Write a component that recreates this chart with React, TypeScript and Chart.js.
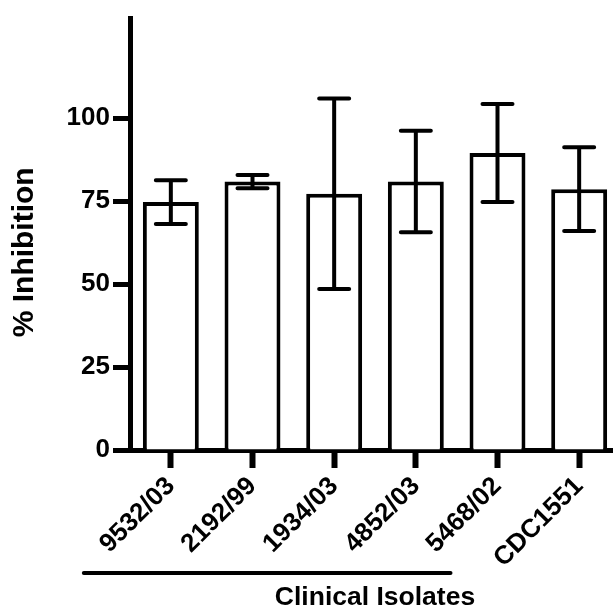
import React, { useEffect, useRef } from "react";
import { Chart, registerables } from "chart.js";

Chart.register(...registerables);

// ---- data ----
const categories: string[] = ["9532/03", "2192/99", "1934/03", "4852/03", "5468/02", "CDC1551"];
const means: number[] = [74.7, 80.9, 77.2, 80.9, 89.5, 78.6];
const errors: number[] = [6.6, 2.0, 28.7, 15.3, 14.8, 12.6];
const yTicks: number[] = [0, 25, 50, 75, 100];
const yMax = 130;
const yTitle = "% Inhibition";
const xTitle = "Clinical Isolates";
const groupedCount = 5; // first five categories are clinical isolates

const FONT = "'Liberation Sans', Arial, Helvetica, sans-serif";

const errorBarPlugin = {
  id: "errorBars",
  afterDatasetsDraw(chart: any) {
    const { ctx } = chart;
    const x = chart.scales.x;
    const y = chart.scales.y;
    ctx.save();
    ctx.strokeStyle = "#000";
    ctx.lineWidth = 4;
    ctx.lineCap = "round";
    means.forEach((m, i) => {
      const px = x.getPixelForValue(i);
      const top = y.getPixelForValue(m + errors[i]);
      const bot = y.getPixelForValue(m - errors[i]);
      ctx.beginPath();
      ctx.moveTo(px, top);
      ctx.lineTo(px, bot);
      ctx.moveTo(px - 15, top);
      ctx.lineTo(px + 15, top);
      ctx.moveTo(px - 15, bot);
      ctx.lineTo(px + 15, bot);
      ctx.stroke();
    });
    ctx.restore();
  },
};

const annotationPlugin = {
  id: "groupAnnotation",
  afterDraw(chart: any) {
    const { ctx } = chart;
    const x = chart.scales.x;
    const y = chart.scales.y;
    ctx.save();
    // bracket line under the clinical isolates
    ctx.strokeStyle = "#000";
    ctx.lineWidth = 4;
    ctx.lineCap = "round";
    const lineY = x.bottom - 37;
    ctx.beginPath();
    ctx.moveTo(x.getPixelForValue(0) - 87, lineY);
    ctx.lineTo(x.getPixelForValue(groupedCount - 1) - 47, lineY);
    ctx.stroke();
    // y axis title
    ctx.fillStyle = "#000";
    ctx.font = `bold 30px ${FONT}`;
    ctx.textAlign = "center";
    ctx.textBaseline = "middle";
    ctx.translate(25, (y.top + y.bottom) / 2 + 18);
    ctx.rotate(-Math.PI / 2);
    ctx.fillText(yTitle, 0, 0);
    ctx.restore();
  },
};

export default function App() {
  const canvasRef = useRef<HTMLCanvasElement | null>(null);

  useEffect(() => {
    const canvas = canvasRef.current;
    if (!canvas) return;
    const chart = new Chart(canvas, {
      type: "bar",
      data: {
        labels: categories,
        datasets: [
          {
            data: means,
            backgroundColor: "#ffffff",
            borderColor: "#000000",
            borderWidth: 4,
            borderSkipped: "start",
            categoryPercentage: 1,
            barPercentage: 0.685,
          },
        ],
      },
      options: {
        animation: false,
        responsive: false,
        devicePixelRatio: 1,
        layout: { padding: { top: 13, left: 0, right: 0, bottom: 0 } },
        plugins: {
          legend: { display: false },
          tooltip: { enabled: false },
          title: { display: false },
        },
        scales: {
          x: {
            z: 1,
            offset: true,
            grid: {
              display: true,
              offset: false,
              drawOnChartArea: false,
              drawTicks: true,
              tickLength: 18,
              tickWidth: 6,
              tickColor: "#000",
            },
            border: { display: true, width: 5, color: "#000" },
            ticks: {
              color: "#000",
              font: { family: FONT, size: 26, weight: "bold" },
              minRotation: 45,
              maxRotation: 45,
              padding: 3,
              autoSkip: false,
            },
            title: {
              display: true,
              text: xTitle,
              color: "#000",
              font: { family: FONT, size: 26.5, weight: "bold" },
              padding: { top: 0, bottom: -4 },
            },
            afterFit: (s: any) => {
              s.height = 160;
            },
          },
          y: {
            z: 1,
            min: 0,
            max: yMax,
            afterBuildTicks: (s: any) => {
              s.ticks = yTicks.map((v) => ({ value: v }));
            },
            grid: {
              display: true,
              drawOnChartArea: false,
              drawTicks: true,
              tickLength: 17,
              tickWidth: 5,
              tickColor: "#000",
            },
            border: { display: true, width: 5, color: "#000" },
            ticks: {
              color: "#000",
              font: { family: FONT, size: 26, weight: "bold" },
              padding: 3,
            },
            afterFit: (s: any) => {
              s.width = 130;
            },
          },
        },
      },
      plugins: [errorBarPlugin, annotationPlugin],
    });
    return () => chart.destroy();
  }, []);

  return (
    <div
      style={{
        position: "fixed",
        left: 0,
        top: 0,
        width: 613,
        height: 610,
        overflow: "hidden",
        background: "#fff",
      }}
    >
      <canvas ref={canvasRef} width={620} height={610} style={{ display: "block" }} />
    </div>
  );
}
